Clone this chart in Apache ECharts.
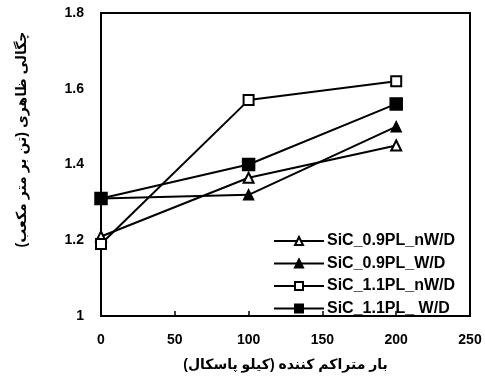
<!DOCTYPE html>
<html>
<head>
<meta charset="utf-8">
<script src="https://cdn.jsdelivr.net/npm/echarts@6/dist/echarts.min.js"></script>
<style>
  html, body { margin: 0; padding: 0; background: #fff; }
  #chart { width: 485px; height: 380px; }
</style>
</head>
<body>
<div id="chart"></div>
<script>
// compaction load (kPa)
const loads = [0, 100, 200];

const names = ['SiC_0.9PL_nW/D', 'SiC_0.9PL_W/D', 'SiC_1.1PL_nW/D', 'SiC_1.1PL_ W/D'];
const symbols = ['emptyTriangle', 'triangle', 'emptyRect', 'rect'];
const symbolSizes = [10, 10, 10, 12];

// apparent density (t/m3)
const sic09nwd = [1.21, 1.365, 1.45];
const sic09wd = [1.31, 1.32, 1.50];
const sic11nwd = [1.19, 1.57, 1.62];
const sic11wd = [1.31, 1.40, 1.56];
const values = [sic09nwd, sic09wd, sic11nwd, sic11wd];

const xTicks = [0, 50, 100, 150, 200, 250];
const yTicks = [1, 1.2, 1.4, 1.6, 1.8];

const font = '"Liberation Sans", Arial, "DejaVu Sans", sans-serif';

const chart = echarts.init(document.getElementById('chart'));

const series = names.map((name, i) => ({
  name: name,
  type: 'line',
  data: loads.map((x, j) => [x, values[i][j]]),
  symbol: symbols[i],
  symbolSize: symbolSizes[i],
  showAllSymbol: true,
  lineStyle: { color: '#000', width: 2 },
  itemStyle: { color: '#000', borderColor: '#000', borderWidth: 1.5 },
  z: 2 + i
}));

chart.setOption({
  animation: false,
  backgroundColor: '#fff',
  grid: { left: 101, right: 15, top: 13, bottom: 64, show: true, borderColor: '#000', borderWidth: 2 },
  legend: {
    orient: 'vertical',
    left: 268,
    top: 228,
    itemWidth: 50,
    itemHeight: 10,
    itemGap: 6.5,
    textStyle: { fontFamily: font, fontWeight: 'bold', fontSize: 16, lineHeight: 13, color: '#000', padding: [0, 0, 0, -2] },
    data: names
  },
  xAxis: {
    type: 'value',
    min: xTicks[0],
    max: xTicks[xTicks.length - 1],
    interval: 50,
    name: 'بار متراکم کننده (کیلو پاسکال)',
    nameLocation: 'middle',
    nameGap: 42,
    nameTextStyle: { fontFamily: font, fontWeight: 'bold', fontSize: 14, color: '#000' },
    axisLine: { show: true, lineStyle: { color: '#000', width: 2 } },
    axisTick: { show: true, inside: true, length: 5, lineStyle: { color: '#000', width: 1.5 } },
    axisLabel: { fontFamily: font, fontWeight: 'bold', fontSize: 14, color: '#000', margin: 17 },
    splitLine: { show: false }
  },
  yAxis: {
    type: 'value',
    min: yTicks[0],
    max: yTicks[yTicks.length - 1],
    interval: 0.2,
    name: 'چگالی ظاهری (تن بر متر مکعب)',
    nameLocation: 'middle',
    nameRotate: 90,
    nameGap: 72,
    nameTextStyle: { fontFamily: font, fontWeight: 'bold', fontSize: 14, color: '#000', padding: [0, 0, 0, 50] },
    axisLine: { show: true, lineStyle: { color: '#000', width: 2 } },
    axisTick: { show: false },
    axisLabel: { fontFamily: font, fontWeight: 'bold', fontSize: 14, color: '#000', margin: 17 },
    splitLine: { show: false }
  },
  series: series
});
</script>
</body>
</html>
